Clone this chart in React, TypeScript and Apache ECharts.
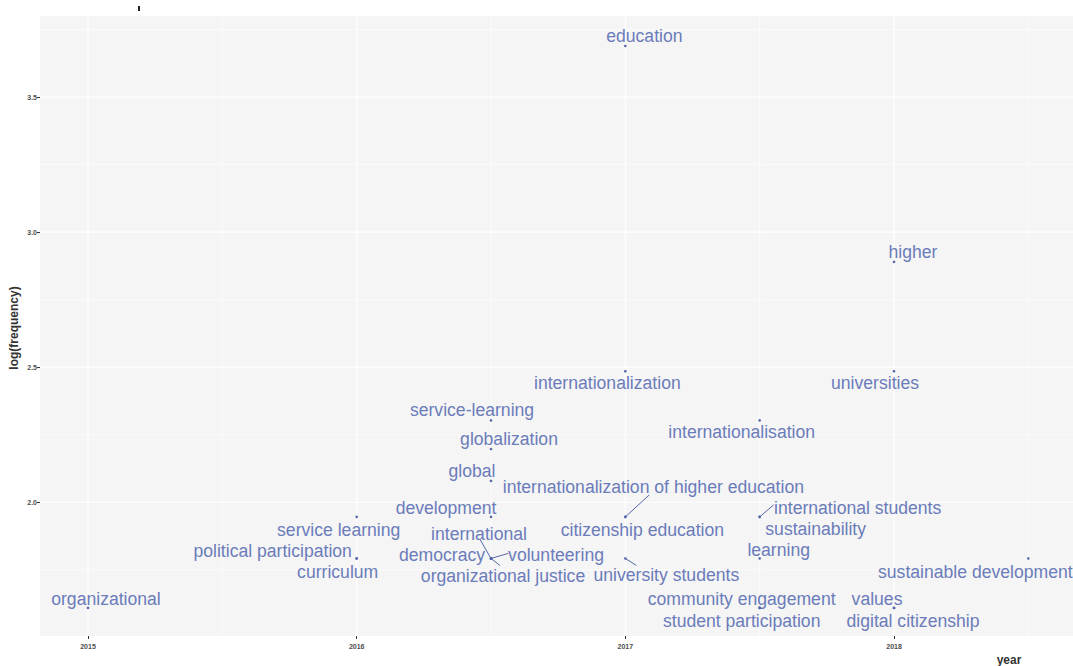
import React, { useEffect, useRef } from "react";
import * as echarts from "echarts";

const words = [
  "education", "higher", "internationalization", "universities", "internationalisation",
  "service-learning", "globalization", "global", "development",
  "internationalization of higher education", "citizenship education", "university students",
  "international students", "sustainability", "learning", "service learning",
  "political participation", "curriculum", "international", "democracy", "volunteering",
  "organizational justice", "sustainable development", "organizational",
  "community engagement", "student participation", "values", "digital citizenship",
];
const years = [
  2017, 2018, 2017, 2018, 2017.5,
  2016.5, 2016.5, 2016.5, 2016.5,
  2017, 2017, 2017,
  2017.5, 2017.5, 2017.5, 2016,
  2016, 2016, 2016.5, 2016.5, 2016.5,
  2016.5, 2018.5, 2015,
  2017.5, 2017.5, 2018, 2018,
];
const logFrequency = [
  3.689, 2.890, 2.485, 2.485, 2.303,
  2.303, 2.197, 2.079, 1.946,
  1.946, 1.946, 1.792,
  1.946, 1.946, 1.792, 1.946,
  1.792, 1.792, 1.792, 1.792, 1.792,
  1.792, 1.792, 1.609,
  1.609, 1.609, 1.609, 1.609,
];
const xTicks = [2015, 2016, 2017, 2018];
const xMinor = [2015.5, 2016.5, 2017.5, 2018.5];
const yTicks = [2.0, 2.5, 3.0, 3.5];
const yMinor = [1.75, 2.25, 2.75, 3.25, 3.75];

// label layout (pixel offsets of the text centre from its point, and optional segment ends)
const labelOffsets: number[][] = [
  [19, -10], [19, -10], [-18, 12], [-19, 12], [-18, 12],
  [-19, -10], [18, -10], [-19, -10], [-45, -9],
  [28, -30], [17, 13], [41, 17],
  [98, -9], [56, 12], [19, -8], [-18, 13],
  [-84, -7], [-19, 14], [-12, -24], [-49, -3], [65, -3],
  [12, 18], [-53, 14], [18, -9],
  [-18, -9], [-18, 13], [-17, -9], [19, 13],
];
const segmentEnds: Record<number, number[]> = {
  9: [24, -22],
  11: [11, 7],
  12: [14, -12],
  18: [-11, -19],
  20: [17, -5],
  21: [9, 7],
};

const TEXT_COLOR = "#6B7CBA";
const POINT_COLOR = "#5566A8";

export default function App() {
  const ref = useRef<HTMLDivElement>(null);
  useEffect(() => {
    if (!ref.current) return;
    const chart = echarts.init(ref.current, null, { renderer: "svg" });
    const gridData: any[] = [];
    xTicks.forEach((v) => gridData.push([v, 0, 1]));
    xMinor.forEach((v) => gridData.push([v, 0, 0]));
    yTicks.forEach((v) => gridData.push([v, 1, 1]));
    yMinor.forEach((v) => gridData.push([v, 1, 0]));

    chart.setOption({
      animation: false,
      backgroundColor: "#FFFFFF",
      grid: {
        left: 40,
        top: 16,
        right: 0,
        height: 620,
        show: true,
        backgroundColor: "#F5F5F5",
        borderWidth: 0,
      },
      xAxis: {
        type: "value",
        min: 2014.8213,
        max: 2018.6662,
        axisLine: { show: false },
        splitLine: { show: false },
        axisTick: {
          show: true,
          length: 3,
          customValues: xTicks,
          lineStyle: { color: "#333333", width: 1 },
        },
        axisLabel: {
          customValues: xTicks,
          fontSize: 7,
          fontWeight: "bold",
          color: "#4D4D4D",
          margin: 7,
          fontFamily: "Liberation Sans",
          formatter: (v: number) => String(Math.round(v)),
        },
      },
      yAxis: {
        type: "value",
        min: 1.505,
        max: 3.8,
        axisLine: { show: false },
        splitLine: { show: false },
        axisTick: {
          show: true,
          length: 3,
          customValues: yTicks,
          lineStyle: { color: "#333333", width: 1 },
        },
        axisLabel: {
          customValues: yTicks,
          fontSize: 7,
          fontWeight: "bold",
          color: "#4D4D4D",
          margin: 3,
          fontFamily: "Liberation Sans",
          formatter: (v: number) => v.toFixed(1),
        },
      },
      graphic: [
        {
          type: "text",
          rotation: Math.PI / 2,
          x: 14,
          y: 328,
          style: {
            text: "log(frequency)",
            fontSize: 12,
            fontWeight: "bold",
            fill: "#333333",
            fontFamily: "Liberation Sans",
            align: "center",
            verticalAlign: "middle",
          },
        },
        {
          type: "text",
          x: 1009,
          y: 660,
          style: {
            text: "year",
            fontSize: 12,
            fontWeight: "bold",
            fill: "#333333",
            fontFamily: "Liberation Sans",
            align: "center",
            verticalAlign: "middle",
          },
        },
        {
          type: "rect",
          shape: { x: 138, y: 6, width: 2, height: 5 },
          style: { fill: "#222222" },
        },
      ],
      series: [
        {
          type: "custom",
          silent: true,
          z: 1,
          data: gridData,
          renderItem: (params: any, api: any) => {
            const v = api.value(0);
            const isY = api.value(1) === 1;
            const major = api.value(2) === 1;
            const cs = params.coordSys;
            const width = major ? 1.2 : 0.6;
            if (isY) {
              const p = api.coord([2016, v]);
              return {
                type: "line",
                shape: { x1: cs.x, y1: p[1], x2: cs.x + cs.width, y2: p[1] },
                style: { stroke: "#FFFFFF", lineWidth: width },
              };
            }
            const p = api.coord([v, 2.5]);
            return {
              type: "line",
              shape: { x1: p[0], y1: cs.y, x2: p[0], y2: cs.y + cs.height },
              style: { stroke: "#FFFFFF", lineWidth: width },
            };
          },
        },
        {
          type: "custom",
          z: 2,
          data: words.map((w, i) => [years[i], logFrequency[i], i]),
          renderItem: (params: any, api: any) => {
            const i = api.value(2);
            const p = api.coord([api.value(0), api.value(1)]);
            const off = labelOffsets[i];
            const children: any[] = [
              {
                type: "circle",
                shape: { cx: p[0], cy: p[1], r: 1.3 },
                style: { fill: POINT_COLOR },
              },
              {
                type: "text",
                x: p[0] + off[0],
                y: p[1] + off[1],
                style: {
                  text: words[i],
                  fill: TEXT_COLOR,
                  fontSize: 17.6,
                  fontFamily: "Liberation Sans",
                  align: "center",
                  verticalAlign: "middle",
                },
              },
            ];
            const seg = segmentEnds[i];
            if (seg) {
              children.push({
                type: "line",
                shape: { x1: p[0], y1: p[1], x2: p[0] + seg[0], y2: p[1] + seg[1] },
                style: { stroke: POINT_COLOR, lineWidth: 1 },
              });
            }
            return { type: "group", children };
          },
        },
      ],
    });
    return () => chart.dispose();
  }, []);
  return (
    <div
      ref={ref}
      style={{ position: "absolute", left: 0, top: 0, width: 1073, height: 666 }}
    />
  );
}
